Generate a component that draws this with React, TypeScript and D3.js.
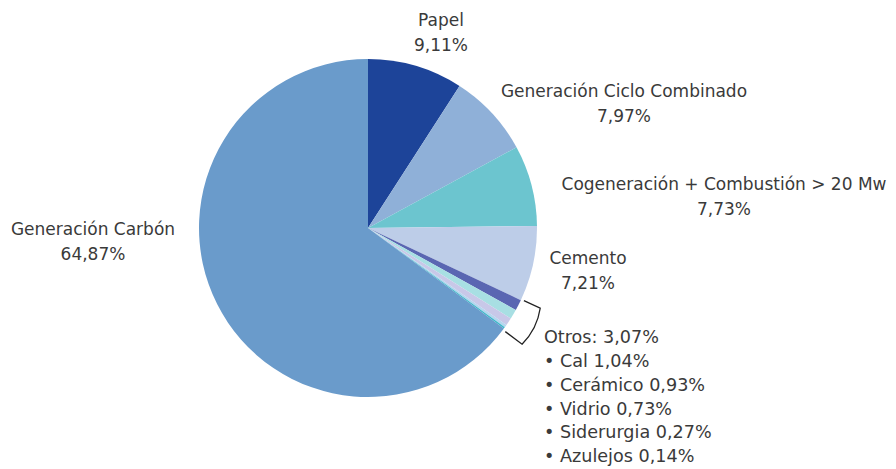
import React from "react";
import * as d3 from "d3";

const categories = ["Papel", "Generación Ciclo Combinado", "Cogeneración + Combustión > 20 Mw", "Cemento", "Cal", "Cerámico", "Vidrio", "Siderurgia", "Azulejos", "Generación Carbón"];
const values = [9.11, 7.97, 7.73, 7.21, 1.04, 0.93, 0.73, 0.27, 0.14, 64.87];
const colors = ["#1d4499", "#8fb0d8", "#6cc5cf", "#bdcde8", "#5a66b2", "#a8dfe3", "#c8c8e8", "#b4d6ee", "#3ab8c9", "#6a9bcb"];
const valueLabels = ["9,11%", "7,97%", "7,73%", "7,21%", "1,04%", "0,93%", "0,73%", "0,27%", "0,14%", "64,87%"];
const otrosTitle = "Otros: 3,07%";
const otrosIdx = [4, 5, 6, 7, 8];

const W = 896, H = 469;
const cx = 368, cy = 228, R = 169;

export default function App() {
  const data = categories.map((c, i) => ({ c, v: values[i], i }));
  const pie = d3.pie<any>().value((d) => d.v).sort(null);
  const arcs = pie(data);
  const arc = d3.arc<any>().innerRadius(0).outerRadius(R);

  const a0 = arcs[otrosIdx[0]].startAngle;
  const a1 = arcs[otrosIdx[otrosIdx.length - 1]].endAngle;
  const pt = (a: number, r: number) => [cx + r * Math.sin(a), cy - r * Math.cos(a)];
  const [p1x, p1y] = pt(a0 - 0.005, R + 3);
  const [p2x, p2y] = pt(a0 - 0.005, R + 21);
  const [p3x, p3y] = pt(a1 + 0.01, R + 24);
  const [p4x, p4y] = pt(a1 + 0.01, R + 3);
  const bracket = `M${p1x},${p1y} L${p2x},${p2y} Q${pt((a0 + a1) / 2, R + 28).join(",")} ${p3x},${p3y} L${p4x},${p4y}`;

  const font = "'DejaVu Sans', sans-serif";
  const fs = 17;
  const fsList = 17.6;
  const labels = [
    { i: 0, x: 441, y: 26 },
    { i: 1, x: 624, y: 97 },
    { i: 2, x: 724, y: 190 },
    { i: 3, x: 588, y: 264 },
    { i: 9, x: 93, y: 235 },
  ];

  return (
    <svg width={W} height={H} style={{ position: "absolute", left: 0, top: 0, background: "#fff" }}>
      <g transform={`translate(${cx},${cy})`}>
        {arcs.map((a, k) => (
          <path key={k} d={arc(a) as string} fill={colors[a.data.i]} />
        ))}
      </g>
      <path d={bracket} fill="none" stroke="#222" strokeWidth={1.3} />
      {labels.map((l) => (
        <text key={l.i} x={l.x} y={l.y} textAnchor="middle" fontFamily={font} fontSize={fs} fill="#3a3a3a">
          <tspan x={l.x}>{categories[l.i]}</tspan>
          <tspan x={l.x} dy={24.5}>{valueLabels[l.i]}</tspan>
        </text>
      ))}
      <text x={544} y={343} fontFamily={font} fontSize={fsList} fill="#3a3a3a">
        {otrosTitle}
      </text>
      {otrosIdx.map((i, k) => (
        <text key={i} x={544} y={367 + k * 23.8} fontFamily={font} fontSize={fsList} fill="#3a3a3a">
          {"• " + categories[i] + " " + valueLabels[i]}
        </text>
      ))}
    </svg>
  );
}
